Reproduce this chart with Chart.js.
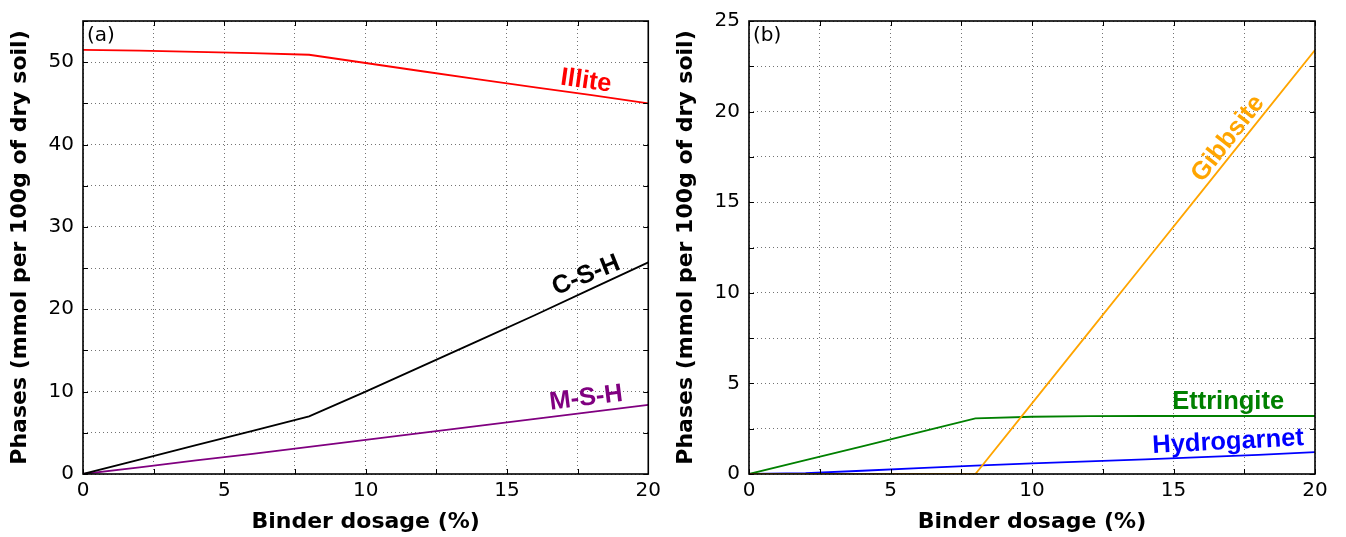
<!DOCTYPE html>
<html>
<head>
<meta charset="utf-8">
<script src="https://cdn.jsdelivr.net/npm/chart.js@4.4.1/dist/chart.umd.min.js"></script>
<style>
  body { margin: 0; background: #fff; }
  #wrap { position: relative; width: 1346px; height: 537px; }
  canvas { position: absolute; top: 0; }
  #chartA { left: 0; }
  #chartB { left: 666px; }
</style>
</head>
<body>
<div id="wrap">
  <canvas id="chartA" width="666" height="537"></canvas>
  <canvas id="chartB" width="680" height="537"></canvas>
</div>
<script>
// binder dosage (%) where the phases were read
const dosage = [0, 2, 4, 6, 8, 10, 12, 14, 16, 18, 20];

// panel (a), mmol per 100g of dry soil
const illite = [51.5, 51.4, 51.25, 51.1, 50.9, 49.9, 48.9, 47.9, 46.95, 46.0, 45.0];
const csh = [0, 1.75, 3.5, 5.25, 7.0, 10.0, 13.1, 16.2, 19.3, 22.5, 25.7];
const msh = [0, 0.8, 1.65, 2.45, 3.3, 4.15, 5.0, 5.85, 6.7, 7.55, 8.4];

// panel (b)
const gibbsite = [0, 0, 0, 0, 0, 3.9, 7.8, 11.7, 15.6, 19.5, 23.4];
const ettringite = [0, 0.77, 1.53, 2.3, 3.07, 3.16, 3.19, 3.2, 3.2, 3.2, 3.2];
const hydrogarnet = [0, 0.05, 0.18, 0.32, 0.46, 0.59, 0.7, 0.81, 0.93, 1.06, 1.21];

const xTitle = 'Binder dosage (%)';
const yTitle = 'Phases (mmol per 100g of dry soil)';

const tickFont = { family: 'DejaVu Sans', size: 20 };
const titleFont = { family: 'DejaVu Sans', size: 22, weight: 'bold' };
const gridColor = 'rgba(0,0,0,0.55)';

function pts(ys) {
  return dosage.map((x, i) => ({ x: x, y: ys[i] }));
}

function line(label, ys, color) {
  return {
    label: label,
    data: pts(ys),
    borderColor: color,
    borderWidth: 1.8,
    pointRadius: 0,
    tension: 0,
    fill: false
  };
}

// frame, inward ticks and the in-plot labels
const decorPlugin = {
  id: 'decor',
  afterDraw(chart) {
    const { ctx, chartArea: a, scales } = chart;
    const opts = chart.options.plugins.decor;
    ctx.save();

    ctx.font = '20px "DejaVu Sans"';
    ctx.fillStyle = '#000';
    ctx.textAlign = 'left';
    ctx.textBaseline = 'top';
    ctx.fillText(opts.panel, a.left + 4, a.top + 5);

    opts.labels.forEach(l => {
      const px = scales.x.getPixelForValue(l.x);
      const py = scales.y.getPixelForValue(l.y);
      ctx.save();
      ctx.translate(px, py);
      ctx.rotate(l.angle * Math.PI / 180);
      ctx.font = 'bold 25.5px "Liberation Sans"';
      ctx.fillStyle = l.color;
      ctx.textAlign = 'center';
      ctx.textBaseline = 'middle';
      ctx.fillText(l.text, 0, 0);
      ctx.restore();
    });

    ctx.strokeStyle = '#000';
    ctx.lineWidth = 1;
    ctx.beginPath();
    scales.x.ticks.forEach(t => {
      const px = Math.round(scales.x.getPixelForValue(t.value)) + 0.5;
      ctx.moveTo(px, a.bottom); ctx.lineTo(px, a.bottom - 5);
      ctx.moveTo(px, a.top); ctx.lineTo(px, a.top + 5);
    });
    scales.y.ticks.forEach(t => {
      const py = Math.round(scales.y.getPixelForValue(t.value)) + 0.5;
      ctx.moveTo(a.left, py); ctx.lineTo(a.left + 5, py);
      ctx.moveTo(a.right, py); ctx.lineTo(a.right - 5, py);
    });
    ctx.stroke();

    ctx.lineWidth = 1.6;
    ctx.strokeRect(a.left, a.top, a.right - a.left, a.bottom - a.top);
    ctx.restore();
  }
};

function makeOptions(yMax, yStep, yLabelStep, padRight, panel, labels) {
  return {
    responsive: false,
    animation: false,
    layout: { padding: { top: 20, right: padRight, left: 0, bottom: 0 } },
    plugins: {
      legend: { display: false },
      tooltip: { enabled: false },
      decor: { panel: panel, labels: labels }
    },
    scales: {
      x: {
        type: 'linear',
        min: 0,
        max: 20,
        ticks: {
          stepSize: 2.5,
          padding: 5,
          color: '#000',
          font: tickFont,
          maxRotation: 0,
          autoSkip: false,
          callback: v => (v % 5 === 0 ? v : '')
        },
        grid: { color: gridColor, lineWidth: 1, drawTicks: false },
        border: { display: false, dash: [1, 3] },
        title: { display: true, text: xTitle, color: '#000', font: titleFont, padding: { top: 0, bottom: 2 } },
        afterFit(s) { s.height = 63; }
      },
      y: {
        type: 'linear',
        min: 0,
        max: yMax,
        ticks: {
          stepSize: yStep,
          padding: 9,
          color: '#000',
          font: tickFont,
          autoSkip: false,
          callback: v => (v % yLabelStep === 0 ? v : '')
        },
        grid: { color: gridColor, lineWidth: 1, drawTicks: false },
        border: { display: false, dash: [1, 3] },
        title: { display: true, text: yTitle, color: '#000', font: titleFont, padding: { top: 7, bottom: 0 } },
        afterFit(s) { s.width = 83; }
      }
    }
  };
}

new Chart(document.getElementById('chartA'), {
  type: 'line',
  data: {
    datasets: [
      line('Illite', illite, '#ff0000'),
      line('C-S-H', csh, '#000000'),
      line('M-S-H', msh, '#800080')
    ]
  },
  options: makeOptions(55, 5, 10, 16, '(a)', [
    { text: 'Illite', x: 17.8, y: 47.7, angle: 8, color: '#ff0000' },
    { text: 'C-S-H', x: 17.8, y: 24.1, angle: -22, color: '#000000' },
    { text: 'M-S-H', x: 17.8, y: 9.2, angle: -7, color: '#800080' }
  ]),
  plugins: [decorPlugin]
});

new Chart(document.getElementById('chartB'), {
  type: 'line',
  data: {
    datasets: [
      line('Gibbsite', gibbsite, '#ffa500'),
      line('Ettringite', ettringite, '#008000'),
      line('Hydrogarnet', hydrogarnet, '#0000ff')
    ]
  },
  options: makeOptions(25, 2.5, 5, 31, '(b)', [
    { text: 'Gibbsite', x: 16.93, y: 18.5, angle: -52, color: '#ffa500' },
    { text: 'Ettringite', x: 16.93, y: 3.96, angle: 0, color: '#008000' },
    { text: 'Hydrogarnet', x: 16.93, y: 1.76, angle: -3, color: '#0000ff' }
  ]),
  plugins: [decorPlugin]
});
</script>
</body>
</html>
